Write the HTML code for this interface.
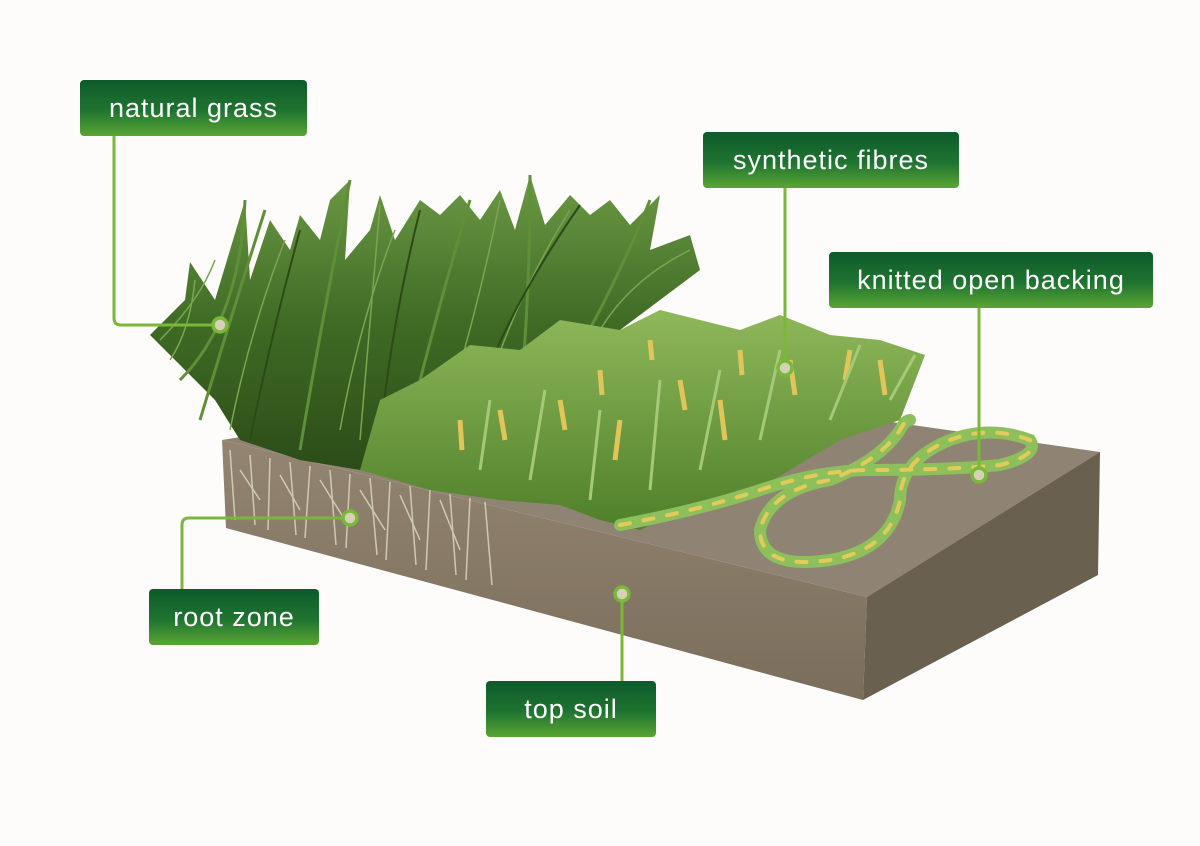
<!DOCTYPE html>
<html><head><meta charset="utf-8"><style>
html,body{margin:0;padding:0;background:#fdfcfa;}
#c{position:relative;width:1200px;height:846px;overflow:hidden;background:#fdfcfa;}
.lab{position:absolute;height:56px;border-radius:4px;background:linear-gradient(#0e5a2c 0%,#1f7430 55%,#5aa634 100%);color:#fff;font-family:"Liberation Sans",sans-serif;font-size:27px;line-height:56px;text-align:center;letter-spacing:1px;}
svg{position:absolute;left:0;top:0;}
</style></head><body><div id="c">
<svg width="1200" height="846" viewBox="0 0 1200 846">
<defs>
<linearGradient id="ng" x1="0" y1="0" x2="0" y2="1"><stop offset="0" stop-color="#6d9a45"/><stop offset="0.5" stop-color="#3f6b25"/><stop offset="1" stop-color="#2c4c18"/></linearGradient>
<linearGradient id="sg" x1="0" y1="0" x2="0" y2="1"><stop offset="0" stop-color="#8fb85a"/><stop offset="1" stop-color="#4f7f2a"/></linearGradient>
<linearGradient id="ff" x1="0" y1="0" x2="0" y2="1"><stop offset="0" stop-color="#938571"/><stop offset="1" stop-color="#7a6d5b"/></linearGradient>
</defs>
<polygon points="222,440 600,380 1100,452 867,597" fill="#8f8474"/>
<polygon points="222,440 867,597 863,700 226,528" fill="url(#ff)"/>
<polygon points="867,597 1100,452 1098,575 863,700" fill="#6a604f"/>
<g stroke="#d8d2b8" stroke-width="1.5" fill="none" opacity="0.9">
<path d="M230 450 L235 520 M250 455 L255 525 M270 458 L268 530 M290 462 L296 535 M310 466 L305 538 M330 470 L336 545 M350 474 L346 548 M370 478 L377 555 M390 482 L386 560 M410 486 L416 565 M430 490 L426 570 M450 494 L456 575 M470 498 L466 580 M485 502 L492 585"/>
<path d="M240 470 L260 500 M280 475 L300 510 M320 480 L345 520 M360 490 L385 530 M400 495 L420 540 M440 500 L460 550"/>
</g>
<polygon fill="url(#ng)" points="150,335 185,300 190,262 215,300 230,250 245,200 250,280 270,220 290,250 300,215 320,240 330,200 350,180 345,260 370,230 380,195 395,240 420,200 440,215 460,195 480,220 500,190 515,230 530,175 545,225 570,195 590,215 610,200 630,225 660,195 650,250 690,235 700,270 660,300 620,330 560,330 500,360 470,420 430,470 360,470 300,460 240,440 215,400 185,370"/>
<g stroke="#5f8f38" stroke-width="3" fill="none">
<path d="M200 420 Q230 320 265 210"/><path d="M300 450 Q320 330 350 180"/><path d="M410 420 Q440 300 470 200"/><path d="M520 400 Q530 300 530 175"/><path d="M560 380 Q610 300 650 200"/><path d="M180 380 Q240 320 245 200"/>
</g>
<g stroke="#7aa650" stroke-width="1.5" fill="none">
<path d="M160 340 Q200 300 215 260"/><path d="M230 430 Q250 330 285 240"/><path d="M340 430 Q360 320 395 230"/><path d="M450 400 Q480 300 500 200"/><path d="M600 330 Q630 280 690 250"/><path d="M170 360 Q190 330 195 280"/><path d="M490 380 Q520 290 570 210"/><path d="M360 440 Q370 320 380 205"/>
</g>
<g stroke="#2c4a18" stroke-width="2" fill="none">
<path d="M250 440 Q270 340 300 230"/><path d="M380 440 Q390 330 420 210"/><path d="M470 420 Q500 320 580 205"/>
</g>
<polygon fill="url(#sg)" points="360,470 380,400 420,380 470,345 520,350 560,320 620,330 660,310 700,320 740,330 780,315 830,335 880,340 925,355 900,420 840,440 790,470 740,500 680,510 640,530 600,520 560,505 500,500 430,490"/>
<g stroke="#e0c65a" stroke-width="5">
<path d="M500 410 L505 440"/><path d="M560 400 L565 430"/><path d="M620 420 L615 460"/><path d="M680 380 L685 410"/><path d="M720 400 L725 440"/><path d="M790 360 L795 395"/><path d="M850 350 L845 380"/><path d="M880 360 L885 395"/><path d="M740 350 L742 375"/><path d="M600 370 L602 395"/><path d="M650 340 L652 360"/><path d="M460 420 L462 450"/>
</g>
<g stroke="#a6c978" stroke-width="3">
<path d="M480 470 L490 400"/><path d="M530 480 L545 390"/><path d="M590 500 L600 410"/><path d="M650 490 L660 380"/><path d="M700 470 L720 370"/><path d="M760 440 L780 350"/><path d="M830 420 L860 345"/><path d="M890 400 L915 355"/>
</g>
<g fill="none" stroke-linecap="round">
<path d="M620 525 Q700 510 760 490 Q820 470 870 470 Q950 470 1000 465 Q1040 455 1030 440 Q990 425 950 440 Q900 460 900 500 Q890 550 830 560 Q760 570 760 530 Q770 490 830 480 Q880 460 900 430 Q905 420 910 420" stroke="#8dbf5a" stroke-width="12"/>
<path d="M620 525 Q700 510 760 490 Q820 470 870 470 Q950 470 1000 465 Q1040 455 1030 440 Q990 425 950 440 Q900 460 900 500 Q890 550 830 560 Q760 570 760 530 Q770 490 830 480 Q880 460 900 430 Q905 420 910 420" stroke="#e2cb5c" stroke-width="4" stroke-dasharray="10 14"/>
</g>
<g stroke="#7ab83a" stroke-width="3" fill="none">
<path d="M114 136 L114 318 Q114 325 121 325 L213 325"/>
<path d="M785 187 L785 361"/>
<path d="M979 307 L979 468"/>
<path d="M182 589 L182 525 Q182 518 189 518 L343 518"/>
<path d="M622 681 L622 601"/>
</g>
<g stroke="#7ab83a" stroke-width="3.5" fill="#d6d0b8">
<circle cx="220" cy="325" r="7"/><circle cx="785" cy="368" r="7"/><circle cx="979" cy="475" r="7"/><circle cx="350" cy="518" r="7"/><circle cx="622" cy="594" r="7"/>
</g>
</svg>
<div class="lab" style="left:80px;top:80px;width:227px;">natural grass</div>
<div class="lab" style="left:703px;top:132px;width:256px;">synthetic fibres</div>
<div class="lab" style="left:829px;top:252px;width:324px;">knitted open backing</div>
<div class="lab" style="left:149px;top:589px;width:170px;">root zone</div>
<div class="lab" style="left:486px;top:681px;width:170px;">top soil</div>
</div></body></html>
